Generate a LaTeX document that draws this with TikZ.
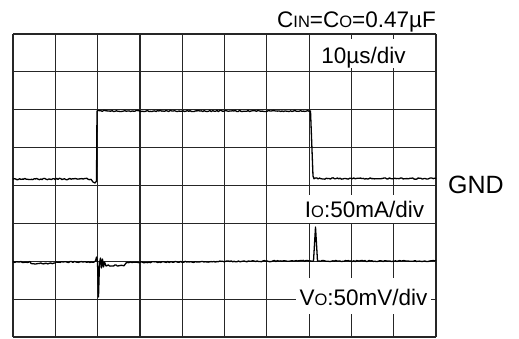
\documentclass[tikz,border=0pt]{standalone}
\usepackage{fontspec}
\setmainfont{Liberation Sans}
\newcommand{\smc}[1]{{\fontsize{16.5}{16.5}\selectfont #1}}
\begin{document}
\begin{tikzpicture}[x=1pt,y=-1pt]
\pgfmathsetseed{7}
\tikzset{
  gridline/.style={line width=1.2pt, black!85},
  trace/.style={line width=1.3pt, black, line join=round},
  lab/.style={font=\fontsize{22.5}{24}\selectfont, inner sep=0pt},
  box/.style={fill=white}
}
\useasboundingbox (0,0) rectangle (519,338);
% grid
\foreach \i in {0,...,10} \draw[gridline] ({13+42.3*\i},34) -- ({13+42.3*\i},337);
\foreach \j in {0,...,8} \draw[gridline] (13,{34+37.875*\j}) -- (436,{34+37.875*\j});
% Io trace
\draw[trace] plot[domain=13:91, samples=60] (\x,{179+0.7*rand}) -- (93,182) -- (95,183) -- (96.5,181) -- (97,111)
  -- plot[domain=98:309, samples=150] (\x,{111+0.6*rand}) -- (310.5,111) -- (313,176)
  -- plot[domain=314:436, samples=90] (\x,{178.5+0.7*rand});
% Vo trace
\draw[trace] plot[domain=13:30,samples=14] (\x,{262+0.6*rand})
  -- plot[domain=31:55,samples=18] (\x,{263.5+0.6*rand})
  -- plot[domain=56:94,samples=28] (\x,{262+0.6*rand})
  -- (95.5,261) -- (96.5,257) -- (97.5,262) -- (98.5,297) -- (99.5,263) -- (100.5,258) -- (101.5,268)
  -- (102.5,259) -- (103.5,267) -- (104.5,262) -- (106,266)
  -- plot[domain=107:124,samples=14] (\x,{265.5+0.6*rand})
  -- plot[domain=126:312,samples=130] (\x,{262.5-0.01*(\x-126)+0.6*rand})
  -- (313.5,261) -- (315.5,227) -- (317.5,261)
  -- plot[domain=319:436,samples=85] (\x,{261+0.6*rand});
% labels
\node[lab, anchor=base east] (cap) at (436,27.3) {C\smc{IN}=C\smc{O}=0.47µF};
\node[lab, box, anchor=base, inner xsep=4pt, inner ysep=4pt, text height=20pt, text depth=1pt] (tdiv) at (363.5,63) {10µs/div};
\node[lab, box, anchor=base, inner xsep=4pt, inner ysep=4pt, text height=18pt, text depth=2pt] (io) at (364.5,217) {I\smc{O}:50mA/div};
\node[lab, box, anchor=base, inner xsep=4pt, inner ysep=5pt, text height=22pt, text depth=4pt] (vo) at (363.5,305) {V\smc{O}:50mV/div};
\node[font=\fontsize{25}{25}\selectfont, anchor=base west, inner sep=0pt] (gnd) at (448,193) {GND};
\end{tikzpicture}
\end{document}
